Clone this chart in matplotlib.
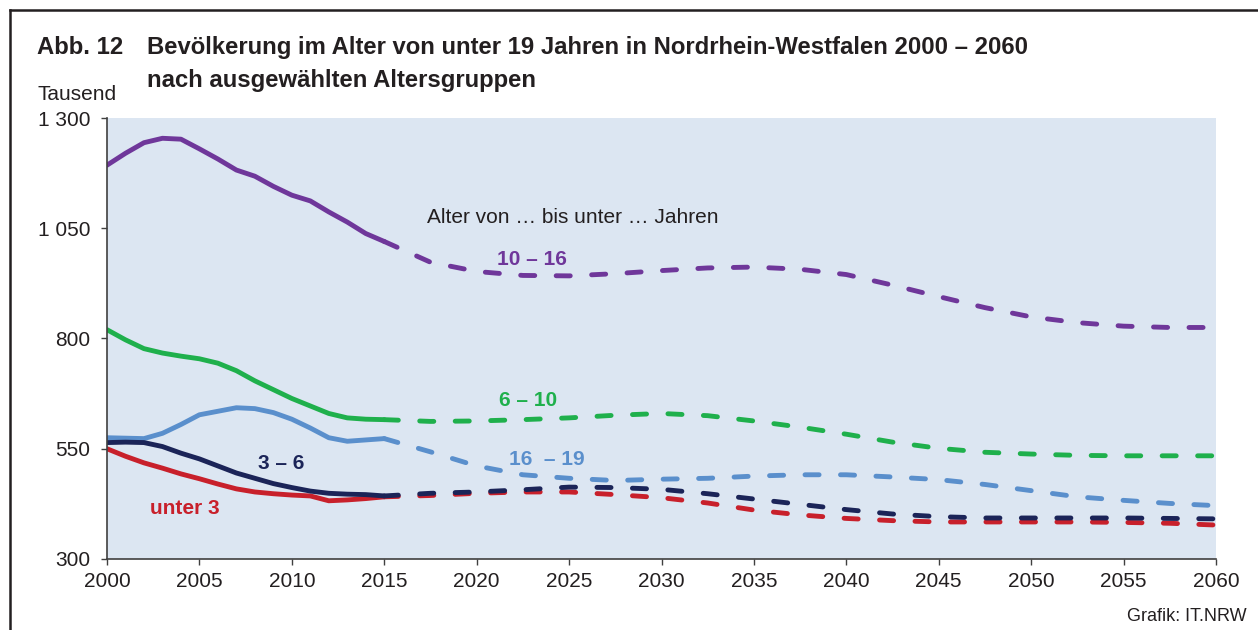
import numpy as np
import matplotlib.pyplot as plt
from matplotlib.lines import Line2D

plt.rcParams['font.family'] = ['Liberation Sans', 'DejaVu Sans']

# --- data (Tausend) ---
years_hist = list(range(2000, 2016))
years_proj = [2015, 2017.5, 2020, 2022.5, 2025, 2027.5, 2030, 2032.5, 2035, 2037.5,
              2040, 2042.5, 2045, 2047.5, 2050, 2052.5, 2055, 2057.5, 2060]

hist_10_16 = [1193, 1220, 1244, 1254, 1252, 1230, 1207, 1182, 1168, 1145, 1125, 1112, 1087, 1064, 1038, 1020]
proj_10_16 = [1020, 973, 952, 943, 942, 947, 954, 960, 962, 957, 945, 921, 895, 870, 849, 836, 828, 825, 825]

hist_6_10 = [820, 797, 777, 767, 760, 754, 744, 727, 704, 684, 664, 647, 630, 620, 617, 616]
proj_6_10 = [616, 612, 613, 616, 620, 626, 630, 625, 613, 599, 583, 565, 551, 542, 538, 535, 534, 534, 534]

hist_16_19 = [575, 574, 573, 585, 605, 627, 635, 643, 641, 632, 617, 597, 575, 567, 570, 573]
proj_16_19 = [573, 543, 511, 491, 483, 478, 481, 483, 488, 491, 491, 486, 480, 469, 455, 441, 433, 426, 421]

hist_3_6 = [564, 565, 564, 555, 540, 527, 511, 495, 483, 471, 462, 454, 449, 447, 446, 443]
proj_3_6 = [443, 449, 452, 457, 463, 462, 458, 448, 436, 424, 412, 402, 396, 393, 393, 393, 393, 392, 391]

hist_u3 = [550, 533, 518, 506, 493, 482, 470, 459, 452, 448, 445, 443, 432, 434, 437, 441]
proj_u3 = [441, 444, 449, 452, 452, 446, 439, 427, 411, 400, 392, 387, 384, 384, 384, 384, 383, 381, 377]

x_ticks = list(range(2000, 2061, 5))
y_ticks = [300, 550, 800, 1050, 1300]
y_labels = ["300", "550", "800", "1 050", "1 300"]

W, H = 1258, 630

# --- figure ---
fig = plt.figure(figsize=(12.58, 6.30), dpi=100)
ax = fig.add_axes([107 / W, 1 - 559 / H, 1109 / W, 441 / H])
ax.set_facecolor('#DCE6F2')

c_10_16 = '#6F379A'
c_6_10 = '#1FB04C'
c_16_19 = '#5A8FCC'
c_3_6 = '#1B2458'
c_u3 = '#C8202B'

# red drawn before navy so navy sits on top, like the original
series = [
    (hist_10_16, proj_10_16, c_10_16),
    (hist_6_10, proj_6_10, c_6_10),
    (hist_16_19, proj_16_19, c_16_19),
    (hist_u3, proj_u3, c_u3),
    (hist_3_6, proj_3_6, c_3_6),
]
for hist, proj, clr in series:
    ax.plot(years_hist, hist, color=clr, linewidth=3.5, solid_capstyle='round', solid_joinstyle='round')
    ax.plot(years_proj, proj, color=clr, linewidth=3.5, dashes=(2.9, 4.4),
            dash_capstyle='round', dash_joinstyle='round')

ax.set_xlim(2000, 2060)
ax.set_ylim(300, 1300)
ax.set_xticks(x_ticks)
ax.set_xticklabels([str(t) for t in x_ticks])
ax.set_yticks(y_ticks)
ax.set_yticklabels(y_labels)
ax.tick_params(axis='both', labelsize=15, color='#404040', labelcolor='#231F20',
               length=4.5, width=1, direction='out')
ax.tick_params(axis='x', pad=5)
ax.tick_params(axis='y', pad=7.5)
for side in ['top', 'right']:
    ax.spines[side].set_visible(False)
for side in ['left', 'bottom']:
    ax.spines[side].set_color('#404040')
    ax.spines[side].set_linewidth(1.2)

# annotations
ax.text(2017.3, 1075, "Alter von … bis unter … Jahren", fontsize=15, color='#231F20', va='center', ha='left')
ax.text(2023.0, 980, "10 – 16", fontsize=15, color=c_10_16, fontweight='bold', ha='center', va='center')
ax.text(2022.8, 659, "6 – 10", fontsize=15, color=c_6_10, fontweight='bold', ha='center', va='center')
ax.text(2023.8, 525, "16  – 19", fontsize=15, color=c_16_19, fontweight='bold', ha='center', va='center')
ax.text(2009.4, 516, "3 – 6", fontsize=15, color=c_3_6, fontweight='bold', ha='center', va='center')
ax.text(2004.2, 414, "unter 3", fontsize=15, color=c_u3, fontweight='bold', ha='center', va='center')

# header texts
fig.text(37 / W, 1 - 54 / H, "Abb. 12", fontsize=17.2, fontweight='bold', color='#231F20', va='baseline')
fig.text(147 / W, 1 - 54 / H, "Bevölkerung im Alter von unter 19 Jahren in Nordrhein-Westfalen 2000 – 2060",
         fontsize=17.2, fontweight='bold', color='#231F20', va='baseline')
fig.text(147 / W, 1 - 87 / H, "nach ausgewählten Altersgruppen",
         fontsize=17.2, fontweight='bold', color='#231F20', va='baseline')
fig.text(37 / W, 1 - 100 / H, "Tausend", fontsize=15, color='#231F20', va='baseline')
fig.text(1247 / W, 1 - 621 / H, "Grafik: IT.NRW", fontsize=13, color='#231F20', va='baseline', ha='right')

# frame (top and left edges visible)
fig.add_artist(Line2D([10 / W, 10 / W], [0, 1 - 10 / H], transform=fig.transFigure, color='#231F20', linewidth=1.8))
fig.add_artist(Line2D([10 / W, 1], [1 - 10 / H, 1 - 10 / H], transform=fig.transFigure, color='#231F20', linewidth=1.8))

fig.savefig('out.png', dpi=100)
